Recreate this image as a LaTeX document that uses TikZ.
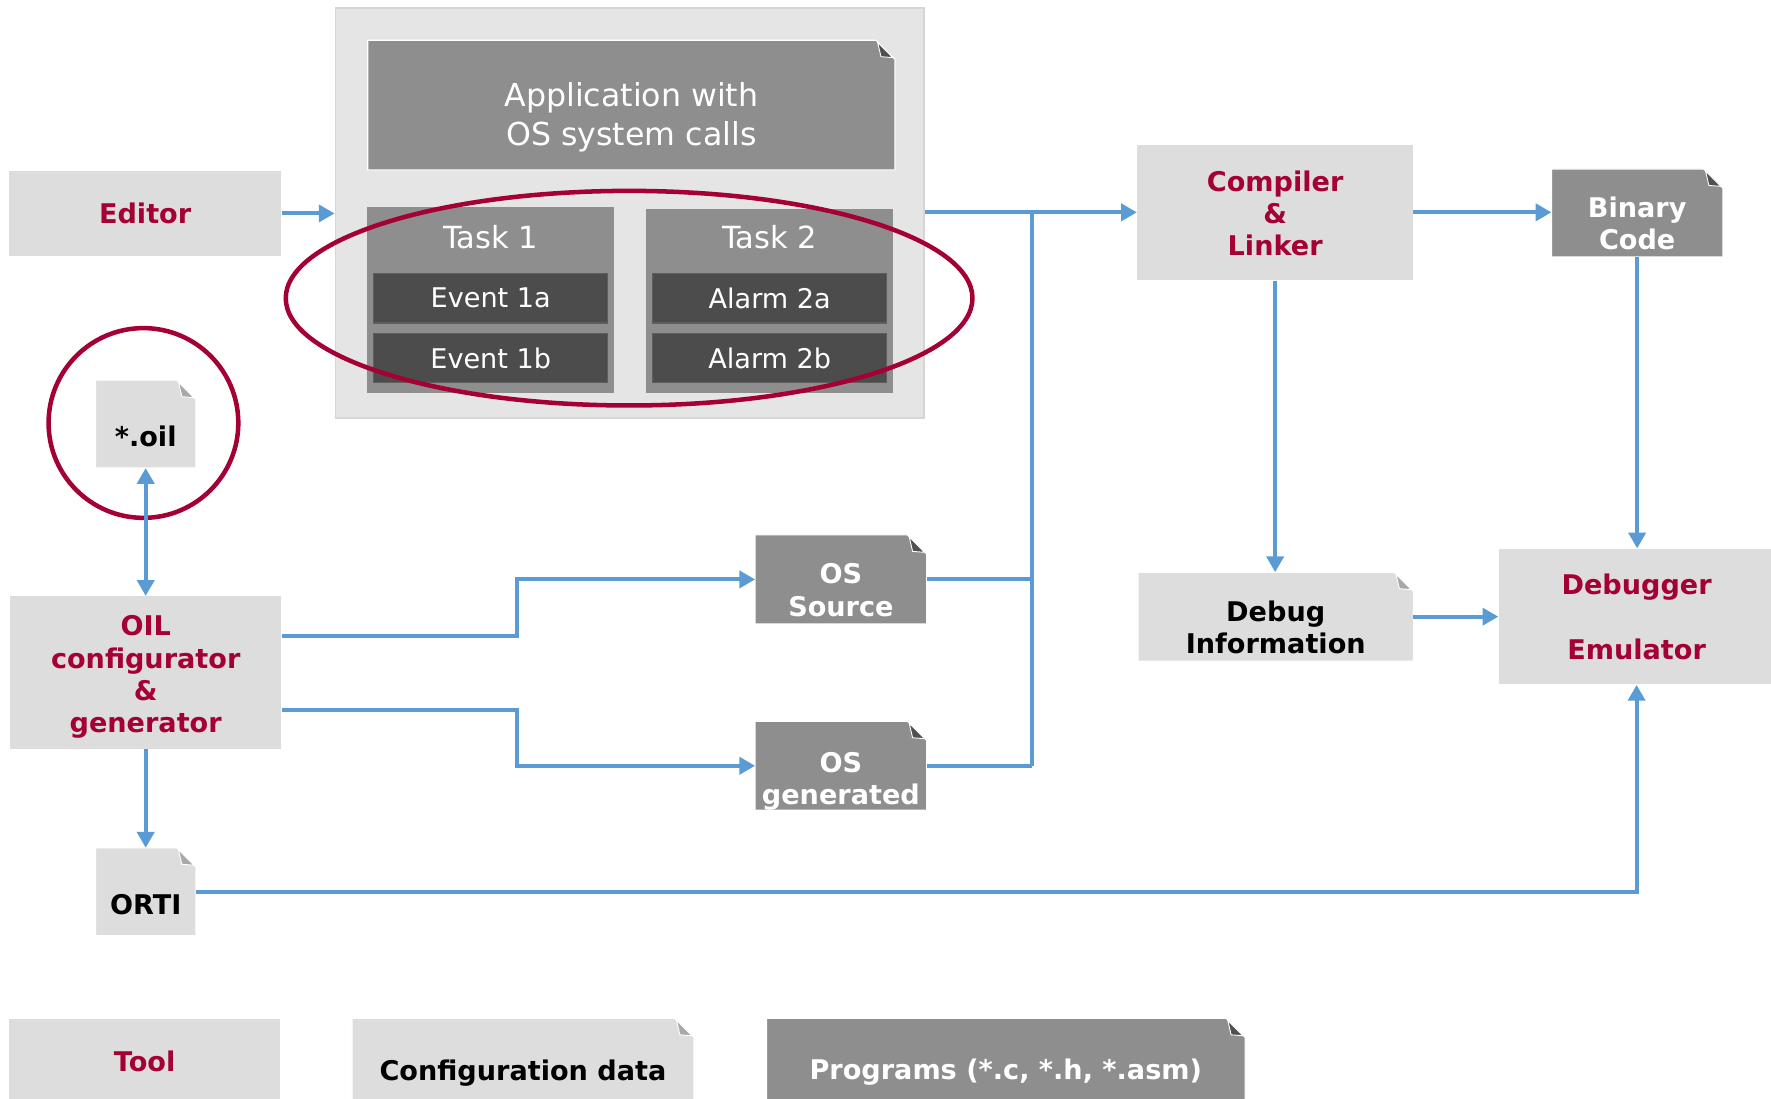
\documentclass[tikz,border=0pt]{standalone}
\usepackage{fontspec}
\setmainfont{DejaVu Sans}
\usetikzlibrary{arrows.meta,calc}
\definecolor{lightbox}{HTML}{DDDDDD}
\definecolor{contbg}{HTML}{E5E5E5}
\definecolor{contline}{HTML}{D6D6D6}
\definecolor{greydoc}{HTML}{8E8E8E}
\definecolor{darkev}{HTML}{4C4C4C}
\definecolor{evline}{HTML}{5E5E5E}
\definecolor{foldlight}{HTML}{A8A8A8}
\definecolor{folddark}{HTML}{505050}
\definecolor{accent}{HTML}{A50034}
\definecolor{flow}{HTML}{5B9BD5}
\newcommand\dogear[3]{%
  \filldraw[fill=#2,draw=white,line width=0.5pt]
    (#1.north west) -- ([xshift=-8.5pt]#1.north east) -- ([yshift=-8.5pt]#1.north east)
    -- (#1.south east) -- (#1.south west) -- cycle;
  \filldraw[fill=#3,draw=white,line width=0.4pt,line join=round]
    ([xshift=-7.7pt,yshift=-0.9pt]#1.north east) -- ([xshift=-6.2pt,yshift=-7.3pt]#1.north east)
    -- ([xshift=-0.9pt,yshift=-7.7pt]#1.north east) -- cycle;
}
\tikzset{
  boldtxt/.style={font=\fontsize{12}{14.3}\selectfont\bfseries, align=center, inner sep=0pt},
  toolbox/.style={boldtxt, fill=lightbox, text=accent},
  docnode/.style={inner sep=0pt, draw=none, fill=none},
  doctext/.style={boldtxt},
  taskbox/.style={fill=greydoc, inner sep=0pt},
  evbox/.style={fill=darkev, draw=evline, line width=0.5pt, inner sep=0pt, text=white,
    font=\fontsize{12}{14.3}\selectfont, minimum width=103.5pt, minimum height=22pt},
  ring/.style={draw=accent, line width=2pt},
  flowline/.style={draw=flow, line width=1.75pt},
  arr/.style={flowline, -{Triangle[length=7pt,width=7.5pt]}},
  arrboth/.style={flowline, {Triangle[length=7pt,width=7.5pt]}-{Triangle[length=7pt,width=7.5pt]}},
}
\begin{document}
\begin{tikzpicture}[x=0.5pt,y=-0.5pt]
\clip (0,0) rectangle (1568,973);
\fill[white] (0,0) rectangle (1568,973);

% container
\node[fill=contbg, draw=contline, line width=0.75pt, inner sep=0pt,
  minimum width=260.5pt, minimum height=181.5pt] (cont) at (557.5,188.5) {};
% application doc
\node[docnode, minimum width=233pt, minimum height=57pt] (app) at (559,93) {};
\dogear{app}{greydoc}{folddark}
\node[text=white, align=center, inner sep=0pt, font=\fontsize{14}{17.5}\selectfont] (apptxt) at (559,104) {Application with\\OS system calls};
% tasks
\node[taskbox, minimum width=109.5pt, minimum height=82.5pt] (task1) at (434.5,265.5) {};
\node[taskbox, minimum width=109.5pt, minimum height=81.5pt] (task2) at (681.5,266.5) {};
\node[text=white, inner sep=0pt, font=\fontsize{13.5}{16}\selectfont] (t1lab) at (434.5,210) {Task 1};
\node[text=white, inner sep=0pt, font=\fontsize{13.5}{16}\selectfont] (t2lab) at (681.5,210) {Task 2};
\node[evbox] (ev1a) at (434.5,264) {Event 1a};
\node[evbox] (ev1b) at (434.5,317) {Event 1b};
\node[evbox] (al2a) at (681.5,264) {Alarm 2a};
\node[evbox] (al2b) at (681.5,317) {Alarm 2b};

% tools
\node[toolbox, minimum width=120.5pt, minimum height=38pt] (editor) at (128.5,189) {Editor};
\node[toolbox, minimum width=120pt, minimum height=67.5pt] (oilc) at (129,595.5) {};
\node[boldtxt, text=accent] (oilctxt) at (129,599.5) {OIL\\configurator\\\&\\generator};
\node[toolbox, minimum width=122pt, minimum height=60pt] (comp) at (1129,188) {};
\node[boldtxt, text=accent] (comptxt) at (1129,189) {Compiler\\\&\\Linker};
\node[toolbox, minimum width=122pt, minimum height=60pt] (dbg) at (1449,546) {Debugger\\[14.3pt]Emulator};

% documents
\node[docnode, minimum width=44pt, minimum height=38.5pt] (oil) at (129,375.5) {};
\dogear{oil}{lightbox}{foldlight}
\node[doctext] (oiltxt) at (129,386) {*.oil};
\node[docnode, minimum width=44pt, minimum height=38.5pt] (orti) at (129,789.5) {};
\dogear{orti}{lightbox}{foldlight}
\node[doctext] (ortitxt) at (129,801) {ORTI};
\node[docnode, minimum width=75.5pt, minimum height=39pt] (ossrc) at (744.5,513) {};
\dogear{ossrc}{greydoc}{folddark}
\node[doctext, text=white] (ossrctxt) at (744.5,522.5) {OS\\Source};
\node[docnode, minimum width=75.5pt, minimum height=39pt] (osgen) at (744.5,678) {};
\dogear{osgen}{greydoc}{folddark}
\node[doctext, text=white] (osgentxt) at (744.5,691.5) {OS\\generated};
\node[docnode, minimum width=75.5pt, minimum height=38.5pt] (bin) at (1449.5,188.5) {};
\dogear{bin}{greydoc}{folddark}
\node[doctext, text=white] (bintxt) at (1449.5,198) {Binary\\Code};
\node[docnode, minimum width=121.5pt, minimum height=39pt] (dbgi) at (1129.5,546) {};
\dogear{dbgi}{lightbox}{foldlight}
\node[doctext] (dbgitxt) at (1129.5,555.5) {Debug\\Information};

% legend
\node[toolbox, minimum width=120pt, minimum height=38pt] (legtool) at (128,940) {Tool};
\node[docnode, minimum width=151pt, minimum height=38pt] (legcfg) at (463,940) {};
\dogear{legcfg}{lightbox}{foldlight}
\node[doctext] (legcfgtxt) at (463,950) {Configuration data};
\node[docnode, minimum width=211.5pt, minimum height=38pt] (legprog) at (890.5,940) {};
\dogear{legprog}{greydoc}{folddark}
\node[doctext, text=white] (legprogtxt) at (890.5,949) {Programs (*.c, *.h, *.asm)};

% rings
\draw[ring] (557,264) ellipse [x radius=152pt, y radius=47.5pt];
\draw[ring] (127,374.5) circle [radius=42pt];

% connectors
\coordinate (j) at (914,188);
\coordinate (split) at (458,0);
\draw[arr] (editor.east) -- (editor.east -| cont.west);
\draw[arr] (cont.east |- comp.west) -- (comp.west);
\draw[flowline] (j) -- (j |- osgen.east);
\draw[flowline] (ossrc.east) -- (ossrc.east -| j);
\draw[flowline] (osgen.east) -- (osgen.east -| j);
\coordinate (o1) at ($(oilc.east)+(0,-32.5)$);
\coordinate (o2) at ($(oilc.east)+(0,33.5)$);
\draw[arr] (o1) -- (o1 -| split) -- (split |- ossrc.west) -- (ossrc.west);
\draw[arr] (o2) -- (o2 -| split) -- (split |- osgen.west) -- (osgen.west);
\draw[arrboth] (oil.south) -- (oilc.north);
\draw[arr] (oilc.south) -- (orti.north);
\draw[arr] (orti.east) -| (dbg.south);
\draw[arr] (comp.east) -- (comp.east -| bin.west);
\draw[arr] (comp.south) -- (comp.south |- dbgi.north);
\draw[arr] (bin.south) -- (bin.south |- dbg.north);
\draw[arr] (dbgi.east) -- (dbgi.east -| dbg.west);
\end{tikzpicture}
\end{document}
